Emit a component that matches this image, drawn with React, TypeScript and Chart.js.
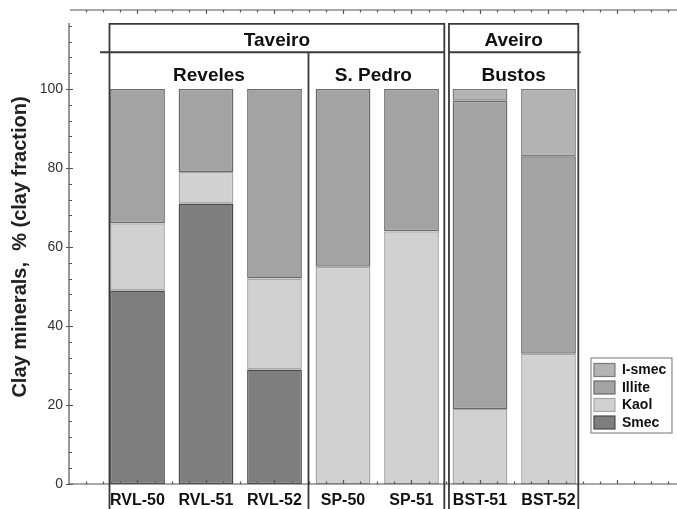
import React, { useEffect, useRef } from 'react';
import { Chart, registerables } from 'chart.js';
Chart.register(...registerables);

const FONT = '"Liberation Sans", Arial, Helvetica, sans-serif';

// Data (percent of clay fraction)
const categories = ['RVL-50', 'RVL-51', 'RVL-52', 'SP-50', 'SP-51', 'BST-51', 'BST-52'];
const smec = [49, 71, 29, 0, 0, 0, 0];
const kaol = [17, 8, 23, 55, 64, 19, 33];
const illite = [34, 21, 48, 45, 36, 78, 50];
const ismec = [0, 0, 0, 0, 0, 3, 17];
const yTickValues = [0, 20, 40, 60, 80, 100];

const seriesNames = ['Smec', 'Kaol', 'Illite', 'I-smec'];
const legendOrder = ['I-smec', 'Illite', 'Kaol', 'Smec'];
const fills: Record<string, string> = { 'I-smec': '#b3b3b3', Illite: '#a3a3a3', Kaol: '#d1d1d1', Smec: '#7e7e7e' };
const borders: Record<string, string> = { 'I-smec': '#7a7a7a', Illite: '#6a6a6a', Kaol: '#a6a6a6', Smec: '#4a4a4a' };

// Group header boxes (in x / y value units)
const groupTop = 116.5;
const groupMid = 109.3;
const taveiro = { left: 0.591, right: 5.479, split: 3.496, lineStart: 0.453 };
const aveiro = { left: 5.547, right: 7.435, lineEnd: 7.47 };

const toPoints = (arr: number[]) => arr.map((v, i) => ({ x: i + 1, y: v > 0 ? v : null }));

export default function App() {
  const ref = useRef<HTMLCanvasElement>(null);
  useEffect(() => {
    const canvas = ref.current!;
    const values: Record<string, number[]> = { Smec: smec, Kaol: kaol, Illite: illite, 'I-smec': ismec };

    const deco = {
      id: 'deco',
      afterDatasetsDraw(chart: any) {
        const { ctx, chartArea } = chart;
        const xs = chart.scales.x, ys = chart.scales.y;
        const X = (v: number) => xs.getPixelForValue(v);
        const Y = (v: number) => ys.getPixelForValue(v);
        const H = chart.height;
        ctx.save();
        // axes
        ctx.strokeStyle = '#555';
        ctx.lineWidth = 1.2;
        const x0 = X(0);
        const yb = Y(0);
        const yt = Y(120);
        ctx.beginPath();
        ctx.moveTo(x0, yb); ctx.lineTo(x0, Y(116.7));
        ctx.moveTo(x0, yb); ctx.lineTo(chartArea.right, yb);
        ctx.moveTo(x0 + 1, yt); ctx.lineTo(chartArea.right, yt);
        ctx.stroke();
        // y ticks
        ctx.beginPath();
        for (let v = 0; v <= 116; v += 4) {
          const py = Math.round(Y(v)) + 0.5;
          if (v % 20 === 0) { ctx.moveTo(x0 - 3, py); ctx.lineTo(x0 + 4, py); }
          else { ctx.moveTo(x0, py); ctx.lineTo(x0 + 3, py); }
        }
        // x ticks (top and bottom)
        for (let v = 0.25; v < xs.max; v += 0.25) {
          const px = Math.round(X(v)) + 0.5;
          const major = Math.abs(v - Math.round(v)) < 1e-6;
          const len = major ? 4 : 2.5;
          ctx.moveTo(px, yb); ctx.lineTo(px, yb - len);
          ctx.moveTo(px, yt); ctx.lineTo(px, yt + len);
        }
        ctx.stroke();

        // group boxes
        ctx.strokeStyle = '#3a3a3a';
        ctx.lineWidth = 1.8;
        const tL = X(taveiro.left), tR = X(taveiro.right), tS = X(taveiro.split);
        const aL = X(aveiro.left), aR = X(aveiro.right);
        const gT = Y(groupTop), gM = Y(groupMid);
        ctx.beginPath();
        ctx.moveTo(tL, H); ctx.lineTo(tL, gT); ctx.lineTo(tR, gT); ctx.lineTo(tR, H);
        ctx.moveTo(X(taveiro.lineStart), gM); ctx.lineTo(tR, gM);
        ctx.moveTo(tS, gM); ctx.lineTo(tS, H);
        ctx.moveTo(aL, H); ctx.lineTo(aL, gT); ctx.lineTo(aR, gT); ctx.lineTo(aR, H);
        ctx.moveTo(aL, gM); ctx.lineTo(X(aveiro.lineEnd), gM);
        ctx.stroke();

        ctx.fillStyle = '#111';
        ctx.font = `bold 19px ${FONT}`;
        ctx.textAlign = 'center';
        ctx.textBaseline = 'middle';
        ctx.fillText('Taveiro', (tL + tR) / 2, Y(112.2));
        ctx.fillText('Reveles', (tL + tS) / 2, Y(103.3));
        ctx.fillText('S. Pedro', (tS + tR) / 2 - 3, Y(103.3));
        ctx.fillText('Aveiro', (aL + aR) / 2, Y(112.2));
        ctx.fillText('Bustos', (aL + aR) / 2, Y(103.3));

        // legend
        const lx = X(7.62), ly = Y(31.9);
        const lw = 81, lh = 75;
        ctx.fillStyle = '#fff';
        ctx.fillRect(lx, ly, lw, lh);
        ctx.strokeStyle = '#8a8a8a';
        ctx.lineWidth = 1.2;
        ctx.strokeRect(lx, ly, lw, lh);
        ctx.font = `bold 14px ${FONT}`;
        ctx.textAlign = 'left';
        legendOrder.forEach((name, i) => {
          const cy = ly + 12 + i * 17.5;
          ctx.fillStyle = fills[name];
          ctx.fillRect(lx + 3, cy - 6.5, 21, 13);
          ctx.strokeStyle = borders[name];
          ctx.lineWidth = 1.2;
          ctx.strokeRect(lx + 3, cy - 6.5, 21, 13);
          ctx.fillStyle = '#111';
          ctx.fillText(name, lx + 31, cy + 0.5);
        });
        ctx.restore();
      },
    };

    const chart = new Chart(canvas, {
      type: 'bar',
      data: {
        datasets: seriesNames.map((name) => ({
          label: name,
          data: toPoints(values[name]) as any,
          backgroundColor: fills[name],
          borderColor: borders[name],
          borderWidth: 1.5,
          borderSkipped: false,
          barPercentage: 0.8,
          categoryPercentage: 1,
        })),
      },
      options: {
        responsive: false,
        animation: false,
        devicePixelRatio: 1,
        layout: { padding: { top: 10, left: 0, right: 0, bottom: 0 } },
        plugins: { legend: { display: false }, tooltip: { enabled: false } },
        scales: {
          x: {
            type: 'linear',
            min: 0,
            max: 8.876,
            stacked: true,
            offset: false,
            grid: { display: false, drawTicks: false },
            border: { display: false },
            afterBuildTicks: (s: any) => { s.ticks = categories.map((_, i) => ({ value: i + 1 })); },
            afterFit: (s: any) => { s.height = 25; s.paddingLeft = 0; s.paddingRight = 0; },
            ticks: {
              autoSkip: false,
              maxRotation: 0,
              padding: 7,
              color: '#111',
              font: { family: FONT, size: 16, weight: 'bold' },
              callback: (v: any) => categories[Math.round(Number(v)) - 1] ?? '',
            },
          },
          y: {
            min: 0,
            max: 120,
            stacked: true,
            grid: { display: false, drawTicks: false },
            border: { display: false },
            afterBuildTicks: (s: any) => { s.ticks = yTickValues.map((v) => ({ value: v })); },
            afterFit: (s: any) => { s.width = 69; s.paddingTop = 0; s.paddingBottom = 0; },
            ticks: {
              padding: 6,
              color: '#333',
              font: { family: FONT, size: 14 },
              callback: (v: any) => String(v),
            },
            title: {
              display: true,
              text: 'Clay minerals,  % (clay fraction)',
              color: '#222',
              font: { family: FONT, size: 20, weight: 'bold' },
              padding: { top: 8, bottom: 0 },
            },
          },
        },
      },
      plugins: [deco],
    });
    return () => chart.destroy();
  }, []);

  return (
    <div style={{ position: 'fixed', left: 0, top: 0, width: 677, height: 509, background: '#fff' }}>
      <canvas ref={ref} width={677} height={509} style={{ display: 'block', width: 677, height: 509 }} />
    </div>
  );
}
